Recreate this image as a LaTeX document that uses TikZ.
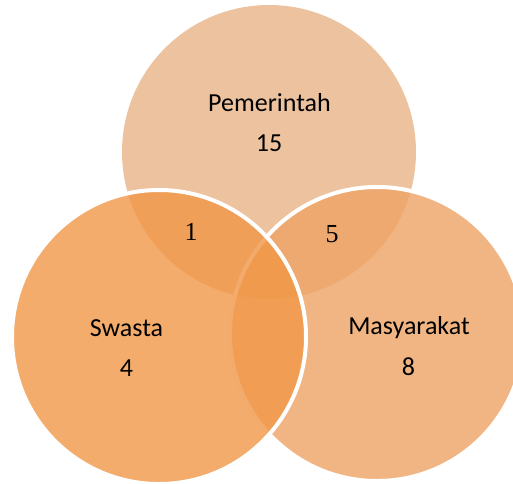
\documentclass[tikz,border=0pt]{standalone}
\usepackage{fontspec}
\setmainfont{Carlito}
\newfontfamily\numfont{Liberation Serif}
\usepackage{xcolor}

\definecolor{pemfill}{RGB}{233,179,134}
\definecolor{swafill}{RGB}{241,151,71}
\definecolor{masfill}{RGB}{238,163,101}

\tikzset{
    setcircle/.style={circle, minimum size=294pt, inner sep=0pt, fill opacity=0.8},
    setlabel/.style={anchor=base, inner sep=0pt, font=\fontsize{26}{30}\selectfont},
    setnum/.style={anchor=base, inner sep=0pt, font=\numfont\fontsize{26}{30}\selectfont}
}

\begin{document}
\begin{tikzpicture}[x=1pt,y=-1pt]
    \useasboundingbox (0,0) rectangle (513,483);
    \node[setcircle, fill=pemfill] (pemerintah) at (269,152) {};
    \node[setcircle, fill=masfill, draw=white, draw opacity=1, line width=4pt] (masyarakat) at (377,334) {};
    \node[setcircle, fill=swafill, draw=white, draw opacity=1, line width=4pt] (swasta) at (159,337) {};
    \node[setlabel] (pemname) at (269.5,111) {Pemerintah};
    \node[setlabel] (pemcount) at (269,151) {15};
    \node[setlabel] (swaname) at (126.5,336) {Swasta};
    \node[setlabel] (swacount) at (126.5,376) {4};
    \node[setlabel] (masname) at (409,334) {Masyarakat};
    \node[setlabel] (mascount) at (408.5,375) {8};
    \node[setnum] (pemswa) at (191,240) {1};
    \node[setnum] (pemmas) at (332,242) {5};
\end{tikzpicture}
\end{document}
